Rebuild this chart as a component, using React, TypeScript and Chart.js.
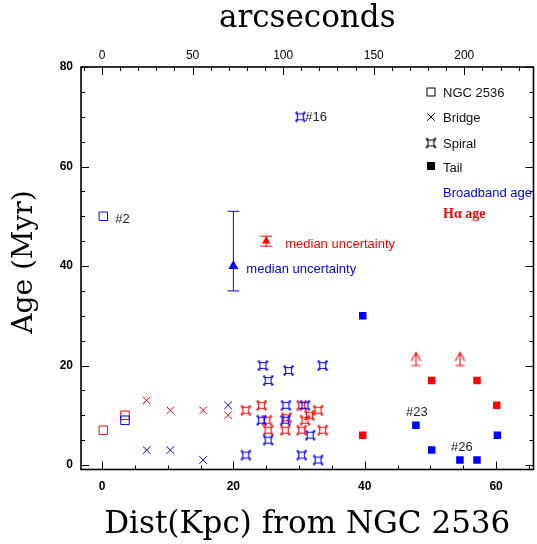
import { useEffect, useRef } from "react";
import { Chart, registerables } from "chart.js";

Chart.register(...registerables);

const BLUE = "#0000ff";
const RED = "#ff0000";

// Distance from NGC 2536 (kpc) and age (Myr) of each knot.
// Broadband ages are blue, H-alpha ages red.
const ngcBroadX = [0.2, 3.5];
const ngcBroadY = [50, 9];
const ngcHaX = [0.2, 3.5];
const ngcHaY = [7, 10];

const bridgeBroadX = [6.8, 10.4, 15.4, 19.2];
const bridgeBroadY = [3, 3, 1, 12];
const bridgeHaX = [6.8, 10.4, 15.4, 19.2];
const bridgeHaY = [13, 11, 11, 10];

const spiralBroadX = [21.9, 24.5, 25.3, 24.3, 25.3, 28.4, 33.6, 28.0, 30.9, 27.9, 31.7, 30.4, 32.9, 30.2];
const spiralBroadY = [2, 20, 17, 9, 5, 19, 20, 12, 12, 9, 6, 2, 1, 70];
const spiralHaX = [21.9, 24.3, 25.1, 25.3, 30.4, 32.9, 31.6, 28.1, 30.9, 27.9, 30.4, 33.6];
const spiralHaY = [11, 12, 9, 7, 12, 11, 10, 9.5, 9, 7, 7, 7];

const tailBroadX = [39.7, 47.8, 50.2, 54.5, 57.1, 60.2];
const tailBroadY = [30, 8, 3, 1, 1, 6];
const tailHaX = [39.7, 50.2, 57.1, 60.1];
const tailHaY = [6, 17, 17, 12];

// H-alpha lower limits
const limitHaX = [47.8, 54.5];
const limitHaY = [20, 20];

// Median uncertainty markers: [broadband, H-alpha]
const medianX = [20, 25];
const medianY = [40, 45];
const medianLo = [35, 44];
const medianHi = [51, 46];

// Axis ticks
const kpcTicks = [0, 20, 40, 60];
const ageTicks = [0, 20, 40, 60, 80];
const arcsecTicks = [0, 50, 100, 150, 200];

const KPC_PER_ARCSEC = 0.2758;
const X_MIN = -3.2;
const X_MAX = 65.7;
const Y_MIN = -0.9;
const Y_MAX = 80;

const W = 537;
const H = 544;

const pts = (xs: number[], ys: number[]) => xs.map((x, i) => ({ x, y: ys[i] }));

function makeSpiral(color: string): HTMLCanvasElement {
  const c = document.createElement("canvas");
  c.width = 13;
  c.height = 13;
  const g = c.getContext("2d")!;
  const m = 6.5;
  const a = 3.8;
  const k = 2.0;
  g.strokeStyle = color;
  g.lineWidth = 1.1;
  g.beginPath();
  g.moveTo(m - a, m - a);
  g.quadraticCurveTo(m, m - a + k, m + a, m - a);
  g.quadraticCurveTo(m + a - k, m, m + a, m + a);
  g.quadraticCurveTo(m, m + a - k, m - a, m + a);
  g.quadraticCurveTo(m - a + k, m, m - a, m - a);
  g.stroke();
  g.beginPath();
  for (const sx of [-1, 1]) {
    for (const sy of [-1, 1]) {
      const cx = m + sx * a;
      const cy = m + sy * a;
      g.moveTo(cx, cy);
      g.lineTo(cx + sx * 1.6, cy);
      g.moveTo(cx, cy);
      g.lineTo(cx, cy + sy * 1.6);
    }
  }
  g.stroke();
  return c;
}

function makeArrow(color: string): HTMLCanvasElement {
  // base of the arrow sits at the canvas centre
  const c = document.createElement("canvas");
  c.width = 13;
  c.height = 30;
  const g = c.getContext("2d")!;
  g.strokeStyle = color;
  g.lineWidth = 1.1;
  g.beginPath();
  g.moveTo(2, 15);
  g.lineTo(11, 15);
  g.moveTo(6.5, 15);
  g.lineTo(6.5, 2);
  g.moveTo(1.8, 10.5);
  g.lineTo(6.5, 2);
  g.lineTo(11.2, 10.5);
  g.stroke();
  return c;
}

const SANS = "'Liberation Sans', Arial, sans-serif";
const SERIF = "'DejaVu Serif', serif";

const noPadding = (s: any) => {
  s.paddingLeft = 0;
  s.paddingRight = 0;
  s.paddingTop = 0;
  s.paddingBottom = 0;
};

export default function App() {
  const ref = useRef<HTMLCanvasElement>(null);

  useEffect(() => {
    const canvas = ref.current!;
    const spiralBlue = makeSpiral(BLUE);
    const spiralRed = makeSpiral(RED);
    const spiralBlack = makeSpiral("#000");
    const arrowRed = makeArrow(RED);

    const notes = [
      { text: "#2", x: ngcBroadX[0], y: ngcBroadY[0], dx: 12, dy: 3, align: "left", color: "#222" },
      { text: "#16", x: spiralBroadX[13], y: spiralBroadY[13], dx: 5, dy: 1, align: "left", color: "#222" },
      { text: "#23", x: tailBroadX[1], y: tailBroadY[1], dx: 1, dy: -13, align: "center", color: "#222" },
      { text: "#26", x: tailBroadX[3], y: tailBroadY[3], dx: 2, dy: -13, align: "center", color: "#222" },
      { text: "median uncertainty", x: medianX[0], y: medianY[0], dx: 13, dy: 3, align: "left", color: BLUE },
      { text: "median uncertainty", x: medianX[1], y: medianY[1], dx: 19, dy: 3, align: "left", color: RED },
    ];

    const decorations = {
      id: "decorations",
      afterDraw(chart: any) {
        const { ctx, chartArea: a } = chart;
        const sx = chart.scales.x;
        const sy = chart.scales.y;
        const st = chart.scales.x2;
        ctx.save();
        ctx.strokeStyle = "#000";
        ctx.lineWidth = 1;
        const line = (x1: number, y1: number, x2: number, y2: number) => {
          ctx.beginPath();
          ctx.moveTo(x1, y1);
          ctx.lineTo(x2, y2);
          ctx.stroke();
        };
        const MAJOR = 8;
        const MINOR = 4;
        // inward tick marks
        for (let v = 0; v <= 65; v += 5) {
          const px = Math.round(sx.getPixelForValue(v)) + 0.5;
          line(px, a.bottom, px, a.bottom - (v % 20 === 0 ? MAJOR : MINOR));
        }
        for (let v = -10; v <= 230; v += 10) {
          const px = Math.round(st.getPixelForValue(v)) + 0.5;
          line(px, a.top, px, a.top + (v % 50 === 0 ? MAJOR : MINOR));
        }
        for (let v = 0; v <= 80; v += 5) {
          const py = Math.round(sy.getPixelForValue(v)) + 0.5;
          const len = v % 20 === 0 ? MAJOR : MINOR;
          line(a.left, py, a.left + len, py);
          line(a.right, py, a.right - len, py);
        }
        ctx.lineWidth = 1.6;
        ctx.strokeRect(a.left, a.top, a.right - a.left, a.bottom - a.top);

        // axis titles
        const cx = (a.left + a.right) / 2;
        ctx.fillStyle = "#000";
        ctx.textAlign = "center";
        ctx.textBaseline = "middle";
        ctx.font = `31px ${SERIF}`;
        ctx.fillText("arcseconds", cx, 19);
        ctx.fillText("Dist(Kpc) from NGC 2536", cx, 525);
        ctx.save();
        ctx.translate(25, 262);
        ctx.rotate(-Math.PI / 2);
        ctx.font = `28px ${SERIF}`;
        ctx.fillText("Age (Myr)", 0, 0);
        ctx.restore();

        // point notes
        ctx.font = `13px ${SANS}`;
        for (const n of notes) {
          ctx.fillStyle = n.color;
          ctx.textAlign = n.align as CanvasTextAlign;
          ctx.fillText(n.text, sx.getPixelForValue(n.x) + n.dx, sy.getPixelForValue(n.y) + n.dy);
        }

        // legend
        const lx = a.right - 102.5;
        const tx = a.right - 90.5;
        const r = [a.top + 25, a.top + 50, a.top + 76, a.top + 99];
        ctx.strokeStyle = "#000";
        ctx.fillStyle = "#000";
        ctx.lineWidth = 1;
        ctx.strokeRect(lx - 4, r[0] - 4, 8, 8);
        line(lx - 3.8, r[1] - 3.8, lx + 3.8, r[1] + 3.8);
        line(lx - 3.8, r[1] + 3.8, lx + 3.8, r[1] - 3.8);
        ctx.drawImage(spiralBlack, lx - spiralBlack.width / 2, r[2] - spiralBlack.height / 2);
        ctx.fillRect(lx - 4, r[3] - 4, 8, 8);
        ctx.textAlign = "left";
        ctx.font = `13px ${SANS}`;
        ctx.fillStyle = "#111";
        ctx.fillText("NGC 2536", tx, a.top + 26.5);
        ctx.fillText("Bridge", tx, a.top + 51.5);
        ctx.fillText("Spiral", tx, a.top + 77);
        ctx.fillText("Tail", tx, a.top + 101);
        ctx.fillStyle = BLUE;
        ctx.fillText("Broadband age", tx, a.top + 126.5);
        ctx.fillStyle = RED;
        ctx.font = `bold 14px 'Liberation Serif', serif`;
        ctx.fillText("H\u03b1 age", tx, a.top + 147.5);
        ctx.restore();
      },
    };

    const tickFont = { family: SANS, size: 12, weight: "bold" as const };

    const open = (label: string, data: any, color: string, style: any, radius: number) => ({
      label,
      data,
      pointStyle: style,
      pointRadius: radius,
      borderColor: color,
      backgroundColor: "rgba(0,0,0,0)",
      pointBorderWidth: 1,
      showLine: false,
    });
    const filled = (label: string, data: any, color: string, style: any, radius: number) => ({
      label,
      data,
      pointStyle: style,
      pointRadius: radius,
      borderColor: color,
      backgroundColor: color,
      pointBorderWidth: 0,
      showLine: false,
    });
    const errorBar = (label: string, i: number, color: string) => ({
      label,
      data: [
        { x: medianX[i], y: medianLo[i] },
        { x: medianX[i], y: medianHi[i] },
      ],
      showLine: true,
      borderColor: color,
      borderWidth: 1,
      pointStyle: "line",
      pointRadius: 6,
      pointBorderWidth: 1,
      backgroundColor: color,
    });

    const chart = new Chart(canvas, {
      type: "scatter",
      data: {
        datasets: [
          open("NGC 2536 broadband", pts(ngcBroadX, ngcBroadY), BLUE, "rect", 6),
          open("NGC 2536 H\u03b1", pts(ngcHaX, ngcHaY), RED, "rect", 6),
          open("Bridge broadband", pts(bridgeBroadX, bridgeBroadY), BLUE, "crossRot", 5.4),
          open("Bridge H\u03b1", pts(bridgeHaX, bridgeHaY), RED, "crossRot", 5.4),
          open("Spiral broadband", pts(spiralBroadX, spiralBroadY), BLUE, spiralBlue, 6),
          open("Spiral H\u03b1", pts(spiralHaX, spiralHaY), RED, spiralRed, 6),
          filled("Tail broadband", pts(tailBroadX, tailBroadY), BLUE, "rect", 5.3),
          filled("Tail H\u03b1", pts(tailHaX, tailHaY), RED, "rect", 5.3),
          open("H\u03b1 lower limit", pts(limitHaX, limitHaY), RED, arrowRed, 6),
          errorBar("Broadband median uncertainty", 0, BLUE),
          filled("Broadband median", [{ x: medianX[0], y: medianY[0] }], BLUE, "triangle", 5.8),
          errorBar("H\u03b1 median uncertainty", 1, RED),
          filled("H\u03b1 median", [{ x: medianX[1], y: medianY[1] }], RED, "triangle", 4.8),
        ],
      },
      options: {
        animation: false,
        responsive: false,
        devicePixelRatio: 1,
        events: [],
        layout: { autoPadding: false, padding: { left: 0, right: 3.5, top: 0, bottom: 0 } },
        plugins: { legend: { display: false }, tooltip: { enabled: false } },
        scales: {
          x: {
            type: "linear",
            position: "bottom",
            min: X_MIN,
            max: X_MAX,
            grid: { display: false, drawTicks: false },
            border: { display: false },
            ticks: { font: tickFont, color: "#000", padding: 10, maxRotation: 0 },
            afterBuildTicks: (s: any) => {
              s.ticks = kpcTicks.map((value) => ({ value }));
            },
            afterFit: (s: any) => {
              s.height = H - 469.5;
              noPadding(s);
            },
          },
          x2: {
            type: "linear",
            position: "top",
            min: X_MIN / KPC_PER_ARCSEC,
            max: X_MAX / KPC_PER_ARCSEC,
            grid: { display: false, drawTicks: false },
            border: { display: false },
            ticks: { font: { family: SANS, size: 12 }, color: "#000", padding: 4, maxRotation: 0 },
            afterBuildTicks: (s: any) => {
              s.ticks = arcsecTicks.map((value) => ({ value }));
            },
            afterFit: (s: any) => {
              s.height = 67;
              noPadding(s);
            },
          },
          y: {
            type: "linear",
            position: "left",
            min: Y_MIN,
            max: Y_MAX,
            grid: { display: false, drawTicks: false },
            border: { display: false },
            ticks: { font: tickFont, color: "#000", padding: 8 },
            afterBuildTicks: (s: any) => {
              s.ticks = ageTicks.map((value) => ({ value }));
            },
            afterFit: (s: any) => {
              s.width = 81;
              noPadding(s);
            },
          },
        },
      } as any,
      plugins: [decorations],
    });

    return () => chart.destroy();
  }, []);

  return (
    <div style={{ position: "absolute", left: 0, top: 0, width: W, height: H, background: "#fff" }}>
      <canvas ref={ref} width={W} height={H} style={{ display: "block", width: W, height: H }} />
    </div>
  );
}
